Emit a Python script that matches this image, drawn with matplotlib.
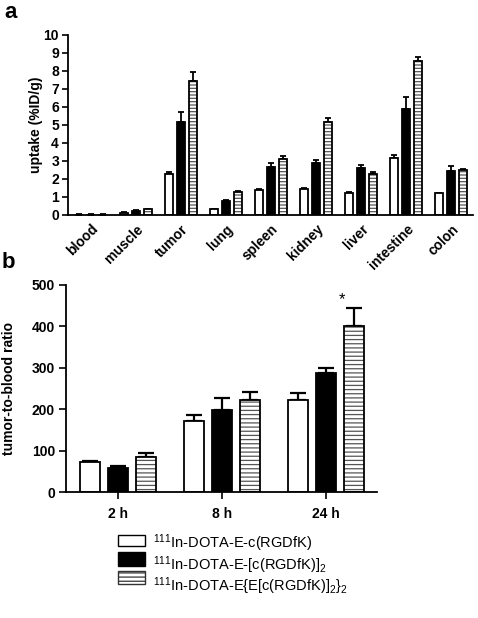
import numpy as np
import matplotlib
matplotlib.use("Agg")
import matplotlib.pyplot as plt
from matplotlib.patches import Rectangle

plt.rcParams['font.family'] = ['Liberation Sans', 'DejaVu Sans']
plt.rcParams['mathtext.fontset'] = 'custom'
plt.rcParams['mathtext.rm'] = 'Liberation Sans'
plt.rcParams['mathtext.it'] = 'Liberation Sans:italic'
plt.rcParams['mathtext.bf'] = 'Liberation Sans:bold'
plt.rcParams['hatch.linewidth'] = 0.9

# ---------------- data ----------------
organs = ["blood", "muscle", "tumor", "lung", "spleen", "kidney", "liver", "intestine", "colon"]
mono_uptake = [0.02, 0.12, 2.25, 0.33, 1.38, 1.47, 1.22, 3.18, 1.2]
mono_err = [0.01, 0.02, 0.15, 0.03, 0.04, 0.05, 0.04, 0.17, 0.04]
dimer_uptake = [0.02, 0.22, 5.18, 0.78, 2.66, 2.9, 2.62, 5.9, 2.42]
dimer_err = [0.01, 0.03, 0.55, 0.06, 0.22, 0.14, 0.17, 0.68, 0.29]
tetramer_uptake = [0.02, 0.33, 7.42, 1.25, 3.12, 5.17, 2.27, 8.55, 2.5]
tetramer_err = [0.01, 0.03, 0.5, 0.07, 0.15, 0.24, 0.1, 0.2, 0.08]

times = ["2 h", "8 h", "24 h"]
mono_ratio = [73, 172, 222]
mono_ratio_err = [3, 14, 17]
dimer_ratio = [59, 199, 287]
dimer_ratio_err = [5, 27, 13]
tetramer_ratio = [85, 222, 402]
tetramer_ratio_err = [10, 19, 43]

labels = [r"$^{111}$In-DOTA-E-c(RGDfK)",
          r"$^{111}$In-DOTA-E-[c(RGDfK)]$_2$",
          r"$^{111}$In-DOTA-E{E[c(RGDfK)]$_2$}$_2$"]

W, H = 478, 618
fig = plt.figure(figsize=(W / 100, H / 100), dpi=100)

def ax_rect(x0, x1, ytop, ybot):
    return [x0 / W, 1 - ybot / H, (x1 - x0) / W, (ybot - ytop) / H]

ax1 = fig.add_axes(ax_rect(68, 473, 35, 215))
ax2 = fig.add_axes(ax_rect(66, 377, 285, 492))

HATCH_COLOR = "#555555"

def draw_group(ax, x, vals, errs, kind, width, capsize, elw, hatch):
    if kind == "white":
        ax.bar(x, vals, width, color="white", edgecolor="black", linewidth=1.3, zorder=2)
    elif kind == "black":
        ax.bar(x, vals, width, color="black", edgecolor="black", linewidth=1.3, zorder=2)
    else:
        ax.bar(x, vals, width, color="white", edgecolor=HATCH_COLOR, hatch=hatch, linewidth=0, zorder=2)
        ax.bar(x, vals, width, fill=False, edgecolor="black", linewidth=1.3, zorder=3)
    ax.errorbar(x, vals, yerr=[np.zeros(len(vals)), errs], fmt="none", ecolor="black",
                elinewidth=elw, capsize=capsize, capthick=elw, zorder=1)

TICK_FS = 10
LABEL_FS = 10

# ---------------- panel a ----------------
xa = np.arange(len(organs))
wa, oa = 0.18, 0.265
draw_group(ax1, xa - oa, mono_uptake, mono_err, "white", wa, 2.2, 1.3, "-----")
draw_group(ax1, xa, dimer_uptake, dimer_err, "black", wa, 2.2, 1.3, "-----")
draw_group(ax1, xa + oa, tetramer_uptake, tetramer_err, "striped", wa, 2.2, 1.3, "-----")
ax1.set_xlim(-0.5, 8.48)
ax1.set_ylim(0, 10)
ax1.set_yticks(range(0, 11))
ax1.set_xticks(xa)
ax1.set_xticklabels(organs, rotation=45, ha="right", rotation_mode="anchor",
                    fontsize=LABEL_FS, fontweight="bold")
ax1.tick_params(axis="x", length=0, pad=5)
ax1.tick_params(axis="y", length=4.5, width=1.2, labelsize=TICK_FS, pad=2)
for t in ax1.get_yticklabels():
    t.set_fontweight("bold")
ax1.set_ylabel("uptake (%ID/g)", fontsize=LABEL_FS, fontweight="bold")
ax1.yaxis.set_label_coords(-0.062, 0.5)

# ---------------- panel b ----------------
xb = np.arange(len(times))
wb, ob = 0.19, 0.27
draw_group(ax2, xb - ob, mono_ratio, mono_ratio_err, "white", wb, 5.5, 1.6, "----")
draw_group(ax2, xb, dimer_ratio, dimer_ratio_err, "black", wb, 5.5, 1.6, "----")
draw_group(ax2, xb + ob, tetramer_ratio, tetramer_ratio_err, "striped", wb, 5.5, 1.6, "----")
ax2.set_xlim(-0.5, 2.49)
ax2.set_ylim(0, 500)
ax2.set_yticks(range(0, 501, 100))
ax2.set_xticks(xb)
ax2.set_xticklabels(times, fontsize=TICK_FS, fontweight="bold")
ax2.tick_params(axis="x", length=5, width=1.2, pad=6)
ax2.tick_params(axis="y", length=5, width=1.2, labelsize=TICK_FS, pad=3)
for t in ax2.get_yticklabels():
    t.set_fontweight("bold")
ax2.set_ylabel("tumor-to-blood ratio", fontsize=LABEL_FS, fontweight="bold")
ax2.yaxis.set_label_coords(-0.16, 0.5)
ax2.text(xb[2] + ob - 0.115, tetramer_ratio[2] + tetramer_ratio_err[2] + 20, "*",
         ha="center", va="center", fontsize=12)

for ax in (ax1, ax2):
    ax.spines["top"].set_visible(False)
    ax.spines["right"].set_visible(False)
    ax.spines["left"].set_linewidth(1.3)
    ax.spines["bottom"].set_linewidth(1.3)

fig.text(4 / W, 1 - 12 / H, "a", fontsize=16, fontweight="bold", va="center", ha="left")
fig.text(2 / W, 1 - 263 / H, "b", fontsize=16, fontweight="bold", va="center", ha="left")

# ---------------- legend (drawn as key boxes + text) ----------------
key_styles = [dict(facecolor="white", edgecolor="black"),
              dict(facecolor="black", edgecolor="black"),
              dict(facecolor="white", edgecolor="#333333", hatch="----")]
key_boxes = [(535, 546), (552, 566), (571, 584)]   # top/bottom pixel rows
baselines = [548, 570, 591]
for style, (yt, yb), base, lab in zip(key_styles, key_boxes, baselines, labels):
    fig.add_artist(Rectangle((118 / W, 1 - yb / H), 27 / W, (yb - yt) / H,
                             transform=fig.transFigure, linewidth=1.0, **style))
    fig.text(153 / W, 1 - base / H, lab, fontsize=10.5, va="baseline", ha="left")

fig.savefig("out.png", dpi=100)
